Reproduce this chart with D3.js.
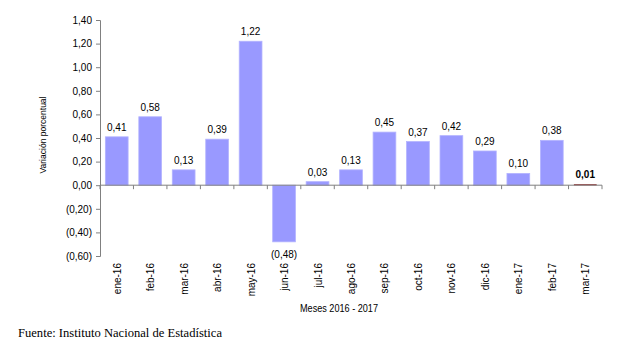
<!DOCTYPE html>
<html><head><meta charset="utf-8">
<script src="https://cdn.jsdelivr.net/npm/d3@7"></script>
<style>body{margin:0;background:#fff}svg{display:block}</style>
</head><body>
<svg id="c" width="619" height="350"></svg>
<script>
const categories = ["ene-16","feb-16","mar-16","abr-16","may-16","jun-16","jul-16","ago-16","sep-16","oct-16","nov-16","dic-16","ene-17","feb-17","mar-17"];
const values = [0.41,0.58,0.13,0.39,1.22,-0.48,0.03,0.13,0.45,0.37,0.42,0.29,0.10,0.38,0.01];
const yTicks = [-0.6,-0.4,-0.2,0,0.2,0.4,0.6,0.8,1.0,1.2,1.4];

const svg = d3.select("#c");
const font = "'Liberation Sans', Arial, sans-serif";
const x = d3.scaleBand().domain(categories).range([100, 602]).paddingInner(0.32).paddingOuter(0.16);
const y = d3.scaleLinear().domain([-0.6, 1.4]).range([256, 20]);
const fmt = v => { const s = Math.abs(v).toFixed(2).replace(".", ","); return v < 0 ? "(" + s + ")" : s; };

// bars
svg.selectAll("rect.bar").data(values).enter().append("rect")
  .attr("x", (d,i) => x(categories[i]))
  .attr("width", x.bandwidth())
  .attr("y", d => y(Math.max(0, d)))
  .attr("height", d => Math.max(1.5, Math.abs(y(d) - y(0))))
  .attr("fill", (d,i) => i === values.length - 1 ? "#a0504f" : "#9999ff")
  .attr("stroke", (d,i) => i === values.length - 1 ? "none" : "#b3b3ff")
  .attr("stroke-width", 0.8);

// y axis
const yAxis = d3.axisLeft(y).tickValues(yTicks).tickSize(4).tickFormat(fmt);
const gy = svg.append("g").attr("transform", "translate(100,0)").call(yAxis);
gy.select(".domain").attr("stroke", "#808080");
gy.selectAll(".tick line").attr("stroke", "#808080");
gy.selectAll("text").attr("font-family", font).attr("font-size", 10).attr("fill", "#000").attr("x", -8);

// x axis line at zero
svg.append("line").attr("x1", 100).attr("x2", 602).attr("y1", y(0)).attr("y2", y(0)).attr("stroke", "#808080");
const bounds = d3.range(categories.length + 1).map(i => 100 + i * (502 / categories.length));
svg.selectAll("line.xt").data(bounds).enter().append("line")
  .attr("x1", d => d).attr("x2", d => d).attr("y1", y(0)).attr("y2", y(0) + 4).attr("stroke", "#808080");

// category labels
svg.selectAll("text.cat").data(categories).enter().append("text")
  .attr("transform", d => `translate(${x(d) + x.bandwidth()/2 + 4},263) rotate(-90)`)
  .attr("text-anchor", "end").attr("font-family", font).attr("font-size", 10).text(d => d);

// value labels
svg.selectAll("text.val").data(values).enter().append("text")
  .attr("x", (d,i) => x(categories[i]) + x.bandwidth()/2)
  .attr("y", d => d >= 0 ? y(d) - 6 : y(d) + 16)
  .attr("text-anchor", "middle").attr("font-family", font).attr("font-size", 10)
  .attr("font-weight", (d,i) => i === values.length - 1 ? "bold" : "normal")
  .text(fmt);

// axis titles
svg.append("text").attr("transform", "translate(46,135) rotate(-90)").attr("text-anchor", "middle")
  .attr("font-family", font).attr("font-size", 9.5)
  .attr("textLength", 77).attr("lengthAdjust", "spacingAndGlyphs").text("Variación porcentual");
svg.append("text").attr("x", 339).attr("y", 312).attr("text-anchor", "middle")
  .attr("font-family", font).attr("font-size", 10)
  .attr("textLength", 78).attr("lengthAdjust", "spacingAndGlyphs").text("Meses 2016 - 2017");
svg.append("text").attr("x", 18).attr("y", 337)
  .attr("font-family", "'Liberation Serif', 'Times New Roman', serif").attr("font-size", 12.5)
  .attr("textLength", 204).attr("lengthAdjust", "spacingAndGlyphs").text("Fuente: Instituto Nacional de Estadística");
</script>
</body></html>
